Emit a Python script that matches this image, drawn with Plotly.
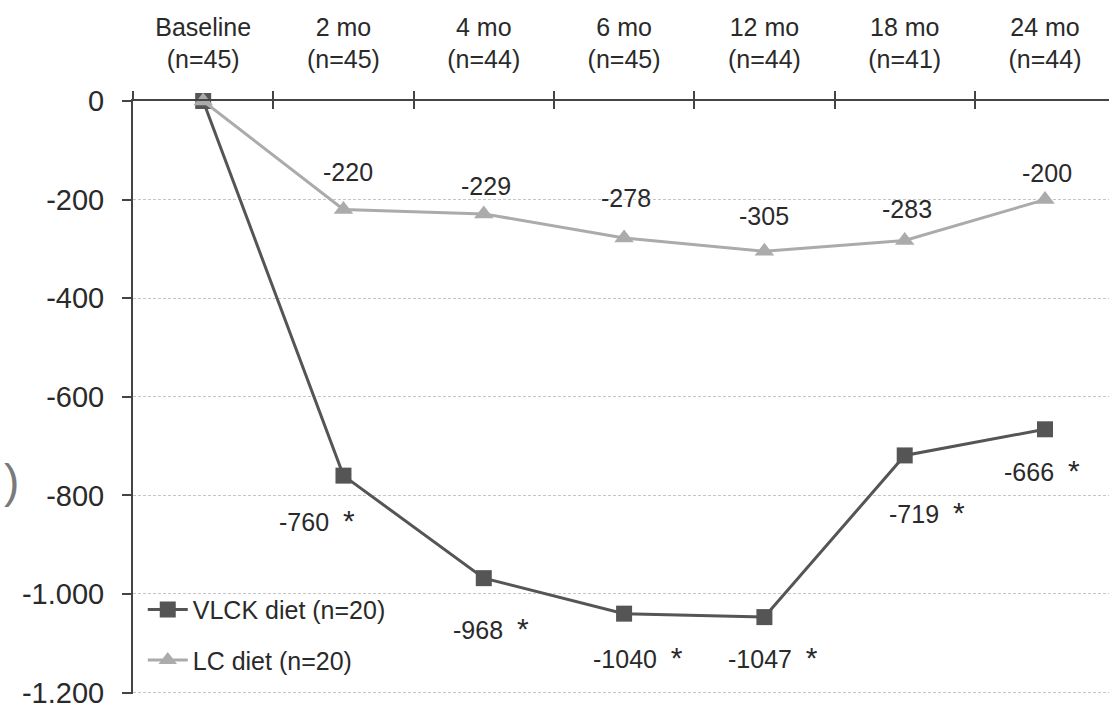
import plotly.graph_objects as go

categories = ["Baseline<br>(n=45)", "2 mo<br>(n=45)", "4 mo<br>(n=44)", "6 mo<br>(n=45)",
              "12 mo<br>(n=44)", "18 mo<br>(n=41)", "24 mo<br>(n=44)"]
vlck = [0, -760, -968, -1040, -1047, -719, -666]
lc = [0, -220, -229, -278, -305, -283, -200]
vlck_sig = ["", "*", "*", "*", "*", "*", "*"]
ytick_vals = [0, -200, -400, -600, -800, -1000, -1200]
ytick_text = ["0", "-200", "-400", "-600", "-800", "-1.000", "-1.200"]

# label offsets (px) - styling only
vlck_dx = [0, -38, -5, 2, -3, 10, -15]
vlck_dy = [0, -45, -50, -44, -40, -57, -41]
lc_dx = [0, 5, 2, 2, 0, 2, 2]
lc_dy = [0, 37, 28, 40, 35, 32, 27]

FONT = "Liberation Sans, Arial, sans-serif"
TXT = "#2a2a2a"
DARK = "#555555"
LIGHT = "#ababab"

fig = go.Figure()
fig.add_trace(go.Scatter(
    x=categories, y=vlck, mode="lines+markers", name="VLCK diet (n=20)",
    line=dict(color=DARK, width=3), marker=dict(symbol="square", size=16, color=DARK),
    cliponaxis=False, legendgroup="a"))
fig.add_trace(go.Scatter(
    x=categories, y=lc, mode="lines+markers", name="LC diet (n=20)",
    line=dict(color=LIGHT, width=3), marker=dict(symbol="triangle-up", size=17, color=LIGHT),
    cliponaxis=False, legendgroup="b"))
# invisible helper trace for the crossing ticks on the top axis
fig.add_trace(go.Scatter(x=[0], y=[0], xaxis="x2", mode="markers", marker=dict(opacity=0),
                         showlegend=False, hoverinfo="skip"))

annotations = []
for i in range(1, len(categories)):
    annotations.append(dict(
        x=categories[i], y=vlck[i], xref="x", yref="y",
        text=f"{vlck[i]}  <span style='font-size:30px'>{vlck_sig[i]}</span>",
        showarrow=False, xshift=vlck_dx[i] + 12, yshift=vlck_dy[i],
        font=dict(family=FONT, size=25, color=TXT)))
    annotations.append(dict(
        x=categories[i], y=lc[i], xref="x", yref="y", text=f"{lc[i]}",
        showarrow=False, xshift=lc_dx[i], yshift=lc_dy[i],
        font=dict(family=FONT, size=25, color=TXT)))
annotations.append(dict(x=-0.134, y=0.36, xref="paper", yref="paper", text=")",
                        showarrow=False, xanchor="left",
                        font=dict(family=FONT, size=46, color="#7a7a7a")))

fig.update_layout(
    width=1109, height=704,
    margin=dict(l=133, r=0, t=101, b=10),
    paper_bgcolor="white", plot_bgcolor="white",
    font=dict(family=FONT, color=TXT),
    xaxis=dict(
        type="category", side="top", range=[-0.5, 6.456], automargin=False,
        showline=True, linecolor="#444444", linewidth=2,
        ticks="outside", ticklen=8, tickwidth=2, tickcolor="#444444",
        tickson="boundaries", showgrid=False,
        tickfont=dict(family=FONT, size=25, color=TXT), ticklabelstandoff=21),
    xaxis2=dict(
        overlaying="x", side="top", range=[-0.5, 6.456], anchor="y", automargin=False,
        tickmode="array", tickvals=[0.5, 1.5, 2.5, 3.5, 4.5, 5.5],
        ticks="inside", ticklen=8, tickwidth=2, tickcolor="#444444",
        showticklabels=False, showgrid=False, showline=False, zeroline=False),
    yaxis=dict(
        range=[-1203, 0], tickmode="array", tickvals=ytick_vals, ticktext=ytick_text,
        automargin=False,
        showline=True, linecolor="#444444", linewidth=2,
        ticks="outside", ticklen=9, tickwidth=2, tickcolor="#444444",
        showgrid=True, gridcolor="#c4c4c4", griddash="3px,2px", gridwidth=1,
        zeroline=False, tickfont=dict(family=FONT, size=29, color=TXT),
        ticklabelstandoff=12, ticklabeloverflow="allow"),
    legend=dict(
        x=0.010, y=0.181, xanchor="left", yanchor="top",
        bgcolor="rgba(0,0,0,0)", font=dict(family=FONT, size=25, color=TXT),
        tracegroupgap=15, traceorder="grouped", itemwidth=40),
    annotations=annotations,
    showlegend=True,
)

fig.write_html("out.html")
